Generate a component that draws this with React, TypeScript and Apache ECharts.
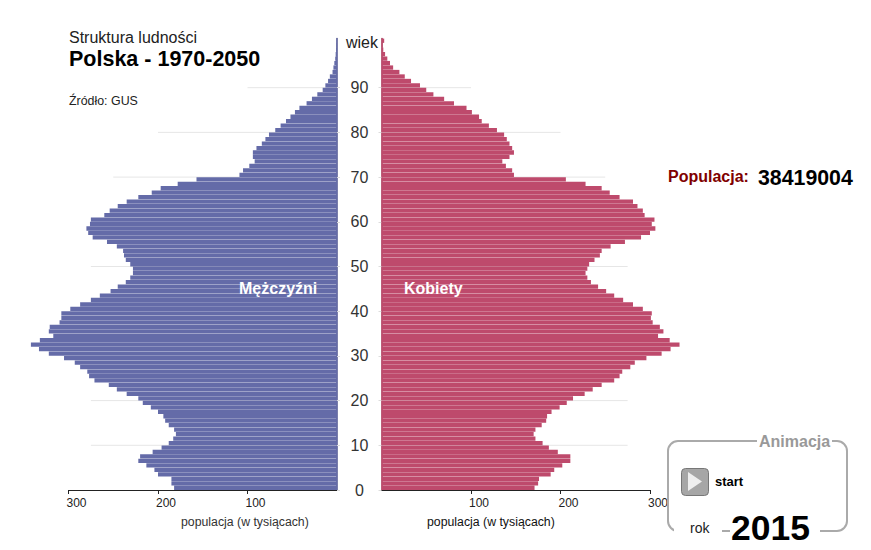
import React, { useEffect, useRef } from "react";
import * as echarts from "echarts";

const FONT = "'Liberation Sans', Arial, sans-serif";
const ages = Array.from({ length: 101 }, (_, i) => String(i));
// values in thousands, index = age 0..100
const men = [182,185,185,200,204,213,222,220,206,196,188,183,180,182,188,192,194,200,208,217,222,235,246,255,271,277,279,287,293,305,322,333,342,332,317,322,321,310,308,308,298,287,275,265,253,245,236,231,228,228,231,236,238,239,246,257,273,278,280,276,275,260,254,245,235,222,207,197,178,157,109,105,98,92,94,94,90,84,80,76,69,63,57,52,47,42,34,28,22,16,13,10,8,5,4,3,2,1.5,1,0.7,0.4];
const women = [171,175,176,189,193,202,211,211,197,187,180,172,170,172,179,184,185,190,199,207,214,227,236,246,260,266,269,278,283,296,313,323,333,322,309,315,311,303,301,302,292,281,270,260,251,242,234,230,228,230,232,238,244,246,256,272,290,300,306,302,305,294,292,286,281,266,255,246,228,206,148,146,139,135,143,148,146,143,140,137,129,120,112,109,101,95,81,70,58,50,43,33,26,20,13,9.5,6.5,4,2,1.3,3];
const ageTicks = [0,10,20,30,40,50,60,70,80,90];
const popTicks = [100,200,300];
const refAges = [90,80,70,50,20,10];
const refLens = [100,200,250,275,275,275];

const refLine = () => {
  const d: any[] = [];
  refAges.forEach((a, i) => { d.push([refLens[i], a], [0, a], ["-", "-"]); });
  return d;
};

const txt = (x: number, y: number, text: string, fontSize: number, fill: string, fontWeight: any = "normal", extra: any = {}) => ({
  type: "text", x, y, silent: true, z: 20,
  style: { text, fontSize, fill, fontWeight, fontFamily: FONT, textVerticalAlign: "middle", verticalAlign: "middle", ...extra },
});

export default function App() {
  const ref = useRef<HTMLDivElement>(null);
  useEffect(() => {
    const chart = echarts.init(ref.current!, null, { renderer: "svg" });
    const xAxisBase = (gridIndex: number, inverse: boolean) => ({
      type: "value", gridIndex, inverse, min: 0, max: 300, interval: 100,
      splitLine: { show: false },
      axisLine: { show: true, onZero: false, lineStyle: { color: "#222", width: 1 } },
      axisTick: { show: true, length: 4, inside: false, customValues: popTicks, lineStyle: { color: "#222" } },
      axisLabel: { show: true, customValues: popTicks, align: "center", margin: 7, fontSize: 12, color: "#222", fontFamily: FONT, padding: [0, 0, 0, 16], showMinLabel: true, showMaxLabel: true },
    });
    const catAxis = (gridIndex: number, position: string, color: string) => ({
      type: "category", gridIndex, position, data: ages, boundaryGap: true,
      axisLine: { show: true, lineStyle: { color, width: 1.5 } },
      axisTick: { show: false }, axisLabel: { show: false }, splitLine: { show: false },
    });
    const valAxis = (gridIndex: number, position: string, labels: boolean) => ({
      type: "value", gridIndex, position, min: 0, max: 101, interval: 10,
      axisLine: { show: false }, splitLine: { show: false },
      axisTick: { show: true, length: 3, customValues: ageTicks, lineStyle: { color: "#ddd" } },
      axisLabel: labels
        ? { show: true, customValues: ageTicks, align: "center", margin: 22, fontSize: 16, color: "#333", fontFamily: FONT }
        : { show: false },
    });
    const gridTop = 38.5, gridH = 451.5;
    chart.setOption({
      animation: false,
      backgroundColor: "#fff",
      grid: [
        { left: 68.5, top: gridTop, width: 268.5, height: gridH, containLabel: false },
        { left: 381.5, top: gridTop, width: 268.5, height: gridH, containLabel: false },
      ],
      xAxis: [xAxisBase(0, true), xAxisBase(1, false)],
      yAxis: [
        catAxis(0, "right", "#4f5590"),
        valAxis(0, "right", false),
        catAxis(1, "left", "#a33f5c"),
        valAxis(1, "left", true),
      ],
      series: [
        { type: "line", name: "ref-m", xAxisIndex: 0, yAxisIndex: 1, data: refLine(), showSymbol: false, symbol: "none", connectNulls: false, silent: true, z: 1, lineStyle: { color: "#e6e6e6", width: 1 } },
        { type: "line", name: "ref-k", xAxisIndex: 1, yAxisIndex: 3, data: refLine(), showSymbol: false, symbol: "none", connectNulls: false, silent: true, z: 1, lineStyle: { color: "#e6e6e6", width: 1 } },
        { type: "bar", name: "Mężczyźni", xAxisIndex: 0, yAxisIndex: 0, data: men, clip: false, barCategoryGap: "4%", z: 2, itemStyle: { color: "#646ba8" } },
        { type: "bar", name: "Kobiety", xAxisIndex: 1, yAxisIndex: 2, data: women, clip: false, barCategoryGap: "4%", z: 2, itemStyle: { color: "#be4a6c" } },
      ],
      graphic: [
        txt(69, 37, "Struktura ludności", 16, "#222"),
        txt(69, 59, "Polska - 1970-2050", 21.5, "#000", "bold"),
        txt(69, 101, "Źródło: GUS", 12.4, "#222"),
        txt(346, 42.5, "wiek", 16, "#222"),
        txt(239, 288, "Mężczyźni", 16, "#fff", "bold"),
        txt(404, 288, "Kobiety", 16, "#fff", "bold"),
        txt(181, 522, "populacja (w tysiącach)", 12.3, "#333"),
        txt(427, 522, "populacja (w tysiącach)", 12.3, "#111"),
        txt(668, 176, "Populacja:", 16, "#800000", "bold"),
        txt(758, 178, "38419004", 21.3, "#000", "bold"),
        { type: "rect", z: 15, shape: { x: 668, y: 441, width: 179, height: 90, r: 10 }, style: { fill: "none", stroke: "#aaa", lineWidth: 2 } },
        { type: "rect", z: 16, shape: { x: 674, y: 528, width: 48, height: 6 }, style: { fill: "#fff" } },
        { type: "rect", z: 16, shape: { x: 730, y: 528, width: 90, height: 6 }, style: { fill: "#fff" } },
        { type: "rect", z: 16, shape: { x: 757, y: 438, width: 75, height: 6 }, style: { fill: "#fff" } },
        txt(759, 441, "Animacja", 16, "#999", "bold"),
        { type: "rect", z: 17, shape: { x: 681.5, y: 468.5, width: 27, height: 27, r: 4 }, style: { fill: "#a6a6a6", stroke: "#777", lineWidth: 1 } },
        { type: "polygon", z: 18, shape: { points: [[688, 472], [702, 481.5], [688, 491]] }, style: { fill: "#eee" } },
        txt(715, 481, "start", 13, "#000", "bold"),
        txt(690, 528, "rok", 14, "#222"),
        txt(731, 528, "2015", 35.5, "#000", "bold"),
      ],
    });
    return () => chart.dispose();
  }, []);
  return <div ref={ref} style={{ position: "fixed", left: 0, top: 0, width: 871, height: 550 }} />;
}
